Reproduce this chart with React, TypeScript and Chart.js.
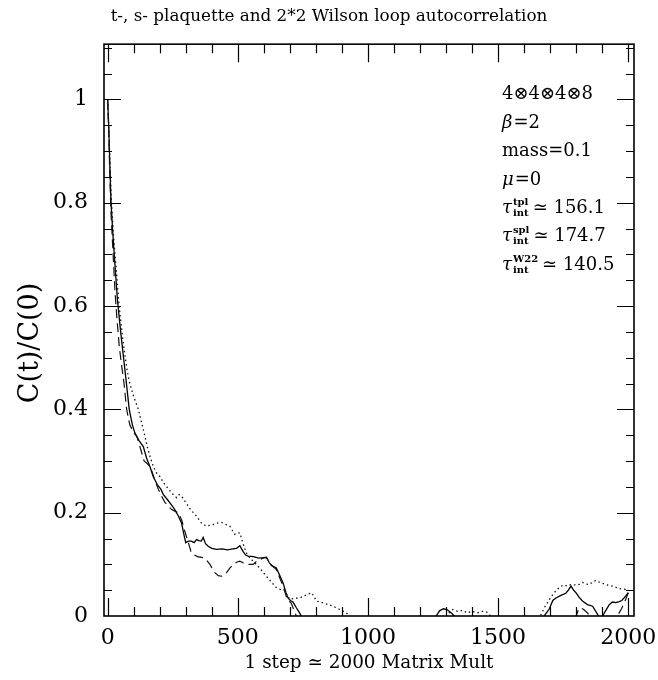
import React, { useEffect, useRef } from "react";
import { Chart, registerables } from "chart.js";

Chart.register(...registerables);

const TITLE = "t-, s- plaquette and 2*2 Wilson loop autocorrelation";
const X_TITLE = "1 step \u2243 2000 Matrix Mult";
const Y_TITLE = "C(t)/C(0)   ";
const xTickValues = [0, 500, 1000, 1500, 2000];
const yTickValues = [0, 0.2, 0.4, 0.6, 0.8, 1];

// t-plaquette (solid)
const tplT = [0, 4, 8, 13, 20, 28, 38, 50, 60, 70, 83, 95, 105, 120, 137, 150, 162, 175, 190, 205, 214, 230, 245, 258, 270, 284, 292, 300, 310, 322, 332, 342, 350, 360, 367, 376, 386, 400, 418, 440, 460, 482, 495, 508, 520, 530, 540, 560, 580, 597, 610, 620, 629, 640, 648, 660, 674, 685, 693, 702, 712, 725, 735, 744, 780, 900, 1100, 1240, 1262, 1275, 1290, 1305, 1320, 1332, 1360, 1500, 1660, 1677, 1697, 1710, 1722, 1741, 1760, 1770, 1780, 1790, 1799, 1810, 1824, 1843, 1863, 1882, 1892, 1901, 1915, 1927, 1939, 1952, 1965, 1975, 1984, 1992, 2000];
const tplC = [1.0, 0.95, 0.88, 0.8, 0.74, 0.68, 0.61, 0.55, 0.505, 0.46, 0.4, 0.37, 0.354, 0.34, 0.328, 0.305, 0.29, 0.27, 0.255, 0.245, 0.235, 0.225, 0.215, 0.206, 0.195, 0.18, 0.16, 0.142, 0.145, 0.145, 0.142, 0.148, 0.146, 0.145, 0.152, 0.14, 0.135, 0.131, 0.129, 0.13, 0.128, 0.13, 0.131, 0.136, 0.125, 0.118, 0.116, 0.115, 0.112, 0.113, 0.114, 0.104, 0.098, 0.095, 0.093, 0.08, 0.064, 0.045, 0.035, 0.03, 0.027, 0.016, 0.008, 0.0, -0.03, -0.05, -0.04, -0.01, 0.0, 0.01, 0.014, 0.012, 0.006, 0.0, -0.02, -0.04, -0.005, 0.0, 0.014, 0.03, 0.035, 0.04, 0.044, 0.05, 0.058, 0.05, 0.045, 0.037, 0.029, 0.022, 0.019, 0.003, -0.005, 0.0, 0.012, 0.022, 0.027, 0.026, 0.028, 0.03, 0.035, 0.04, 0.045];

// s-plaquette (dotted)
const splT = [0, 4, 8, 14, 22, 30, 44, 55, 65, 75, 85, 100, 118, 130, 140, 152, 165, 175, 190, 201, 215, 230, 250, 265, 275, 284, 300, 320, 342, 360, 380, 395, 405, 420, 438, 450, 469, 480, 489, 500, 508, 520, 533, 545, 559, 580, 595, 610, 630, 648, 665, 680, 690, 700, 715, 738, 760, 783, 790, 802, 830, 866, 890, 917, 930, 960, 1100, 1290, 1315, 1326, 1345, 1365, 1380, 1400, 1420, 1440, 1455, 1467, 1480, 1560, 1650, 1665, 1680, 1697, 1715, 1735, 1750, 1765, 1780, 1800, 1812, 1824, 1838, 1850, 1865, 1876, 1890, 1901, 1920, 1939, 1955, 1965, 1980, 1997, 2000];
const splC = [1.0, 0.95, 0.89, 0.81, 0.74, 0.69, 0.6, 0.55, 0.51, 0.475, 0.45, 0.425, 0.4, 0.375, 0.355, 0.328, 0.305, 0.29, 0.275, 0.27, 0.258, 0.248, 0.236, 0.229, 0.235, 0.232, 0.22, 0.205, 0.193, 0.18, 0.174, 0.176, 0.177, 0.18, 0.181, 0.178, 0.174, 0.165, 0.158, 0.16, 0.161, 0.14, 0.122, 0.113, 0.106, 0.095, 0.086, 0.077, 0.065, 0.055, 0.051, 0.05, 0.04, 0.032, 0.034, 0.035, 0.04, 0.045, 0.04, 0.029, 0.025, 0.019, 0.013, 0.006, 0.0, -0.02, -0.04, -0.01, 0.008, 0.0126, 0.009, 0.011, 0.006, 0.009, 0.006, 0.009, 0.008, 0.003, -0.01, -0.03, -0.01, 0.003, 0.018, 0.032, 0.045, 0.055, 0.06, 0.058, 0.061, 0.06, 0.061, 0.065, 0.062, 0.061, 0.066, 0.069, 0.065, 0.063, 0.06, 0.058, 0.055, 0.053, 0.052, 0.051, 0.05];

// 2x2 Wilson loop (dashed)
const w22T = [0, 4, 8, 12, 20, 28, 35, 45, 55, 63, 73, 85, 100, 112, 124, 140, 163, 180, 195, 207, 220, 235, 246, 258, 271, 285, 297, 310, 320, 329, 345, 367, 380, 393, 404, 412, 425, 438, 447, 457, 470, 482, 495, 508, 520, 533, 545, 559, 570, 584, 597, 610, 622, 636, 648, 660, 674, 686, 695, 705, 715, 725, 760, 1000, 1400, 1790, 1800, 1808, 1818, 1830, 1845, 1855, 1900, 1950, 1958, 1975, 1990, 2000];
const w22C = [1.0, 0.94, 0.86, 0.79, 0.71, 0.63, 0.58, 0.52, 0.48, 0.45, 0.4, 0.37, 0.355, 0.348, 0.328, 0.3, 0.29, 0.265, 0.245, 0.232, 0.22, 0.212, 0.206, 0.203, 0.2, 0.185, 0.163, 0.142, 0.125, 0.119, 0.115, 0.113, 0.108, 0.1, 0.09, 0.084, 0.078, 0.077, 0.079, 0.084, 0.093, 0.1, 0.104, 0.106, 0.103, 0.1, 0.1, 0.1, 0.105, 0.109, 0.112, 0.113, 0.103, 0.095, 0.09, 0.075, 0.058, 0.038, 0.03, 0.025, 0.012, 0.0, -0.03, -0.06, -0.05, -0.005, 0.0, 0.012, 0.016, 0.012, 0.005, -0.005, -0.03, -0.01, 0.0, 0.015, 0.032, 0.045];

const INFO_LINES = ["4\u22974\u22974\u22978", "\u03b2=2", "mass=0.1", "\u03bc=0"];
const TAU_LABELS = ["tpl", "spl", "W22"];
const TAU_VALUES = ["156.1", "174.7", "140.5"];

const SERIF = "'DejaVu Serif', serif";

const framePlugin = {
  id: "frameTicks",
  afterDatasetsDraw(chart: any) {
    const { ctx, chartArea } = chart;
    const { left, right, top, bottom } = chartArea;
    const xs = chart.scales.x;
    const ys = chart.scales.y;
    ctx.save();
    ctx.strokeStyle = "#000";
    ctx.lineWidth = 1.2;
    ctx.beginPath();
    for (let v = 0; v <= 2000; v += 100) {
      const px = Math.round(xs.getPixelForValue(v)) + 0.5;
      const len = v % 500 === 0 ? 18 : 9;
      ctx.moveTo(px, bottom);
      ctx.lineTo(px, bottom - len);
      ctx.moveTo(px, top);
      ctx.lineTo(px, top + len);
    }
    for (let i = 1; i <= 22; i++) {
      const py = Math.round(ys.getPixelForValue(i * 0.05)) + 0.5;
      const len = i % 4 === 0 ? 17 : 8;
      ctx.moveTo(left, py);
      ctx.lineTo(left + len, py);
      ctx.moveTo(right, py);
      ctx.lineTo(right - len, py);
    }
    ctx.stroke();
    ctx.lineWidth = 1.6;
    ctx.strokeRect(left, top, right - left, bottom - top);
    ctx.restore();
  },
  afterDraw(chart: any) {
    const { ctx } = chart;
    ctx.save();
    ctx.fillStyle = "#000";
    ctx.textBaseline = "alphabetic";
    ctx.textAlign = "left";
    const x0 = 502;
    const step = 28.4;
    const y0 = 93;
    const fs = 18;
    const base = (i: number) => y0 + i * step + fs * 0.36;
    ctx.font = `${fs}px ${SERIF}`;
    ctx.fillText(INFO_LINES[0], x0, base(0));
    ctx.font = `italic ${fs}px ${SERIF}`;
    ctx.fillText(INFO_LINES[1][0], x0, base(1));
    let w = ctx.measureText(INFO_LINES[1][0]).width;
    ctx.font = `${fs}px ${SERIF}`;
    ctx.fillText(INFO_LINES[1].slice(1), x0 + w + 1, base(1));
    ctx.fillText(INFO_LINES[2], x0, base(2));
    ctx.font = `italic ${fs}px ${SERIF}`;
    ctx.fillText(INFO_LINES[3][0], x0, base(3));
    w = ctx.measureText(INFO_LINES[3][0]).width;
    ctx.font = `${fs}px ${SERIF}`;
    ctx.fillText(INFO_LINES[3].slice(1), x0 + w + 1, base(3));
    for (let k = 0; k < 3; k++) {
      const b = base(4 + k);
      ctx.font = `italic ${fs}px ${SERIF}`;
      ctx.fillText("\u03c4", x0, b);
      const tw = ctx.measureText("\u03c4").width;
      ctx.font = `bold 10px ${SERIF}`;
      ctx.fillText(TAU_LABELS[k], x0 + tw + 1, b - 8);
      ctx.fillText("int", x0 + tw + 1, b + 3);
      const sw = Math.max(ctx.measureText(TAU_LABELS[k]).width, ctx.measureText("int").width);
      ctx.font = `${fs}px ${SERIF}`;
      ctx.fillText("\u2243 " + TAU_VALUES[k], x0 + tw + sw + 5, b);
    }
    ctx.restore();
  },
};

function pts(t: number[], c: number[]) {
  return t.map((x, i) => ({ x, y: c[i] }));
}

export default function App() {
  const ref = useRef<HTMLCanvasElement>(null);
  useEffect(() => {
    const canvas = ref.current!;
    const chart = new Chart(canvas, {
      type: "line",
      data: {
        datasets: [
          {
            label: "spl",
            data: pts(splT, splC),
            borderColor: "#111",
            borderWidth: 1.3,
            borderDash: [1.5, 3],
            pointRadius: 0,
            tension: 0,
            fill: false,
          },
          {
            label: "W22",
            data: pts(w22T, w22C),
            borderColor: "#111",
            borderWidth: 1.2,
            borderDash: [9, 5],
            pointRadius: 0,
            tension: 0,
            fill: false,
          },
          {
            label: "tpl",
            data: pts(tplT, tplC),
            borderColor: "#000",
            borderWidth: 1.3,
            pointRadius: 0,
            tension: 0,
            fill: false,
          },
        ],
      },
      options: {
        animation: false,
        responsive: false,
        devicePixelRatio: 1,
        layout: { padding: 0 },
        plugins: {
          legend: { display: false },
          tooltip: { enabled: false },
          title: {
            display: true,
            text: TITLE,
            color: "#000",
            font: { family: SERIF, size: 16.8, weight: "normal" },
            padding: { top: 7, bottom: 17 },
          },
        },
        scales: {
          x: {
            type: "linear",
            min: -14,
            max: 2022,
            afterBuildTicks: (s: any) => {
              s.ticks = xTickValues.map((v) => ({ value: v }));
            },
            afterFit: (s: any) => {
              s.height = 64;
              s.paddingLeft = 0;
              s.paddingRight = 24;
            },
            ticks: {
              color: "#000",
              font: { family: SERIF, size: 22 },
              padding: 9,
              maxRotation: 0,
              autoSkip: false,
              callback: (v: any) => String(v),
            },
            grid: { display: false, drawTicks: false },
            border: { display: false },
            title: {
              display: true,
              text: X_TITLE,
              color: "#000",
              font: { family: SERIF, size: 18.4 },
              padding: { top: 0, bottom: 6 },
            },
          },
          y: {
            type: "linear",
            min: 0,
            max: 1.107,
            afterBuildTicks: (s: any) => {
              s.ticks = yTickValues.map((v) => ({ value: v }));
            },
            afterFit: (s: any) => {
              s.width = 104;
            },
            ticks: {
              color: "#000",
              font: { family: SERIF, size: 22 },
              padding: 16,
              autoSkip: false,
              callback: (v: any) => String(+Number(v).toFixed(2)),
            },
            grid: { display: false, drawTicks: false },
            border: { display: false },
            title: {
              display: true,
              text: Y_TITLE,
              color: "#000",
              font: { family: SERIF, size: 27 },
              padding: { top: 15, bottom: 0 },
            },
          },
        },
      },
      plugins: [framePlugin],
    });
    return () => chart.destroy();
  }, []);
  return (
    <div style={{ position: "absolute", left: 0, top: 0, width: 658, height: 680, background: "#fff" }}>
      <canvas ref={ref} width={658} height={680} style={{ display: "block" }} />
    </div>
  );
}
